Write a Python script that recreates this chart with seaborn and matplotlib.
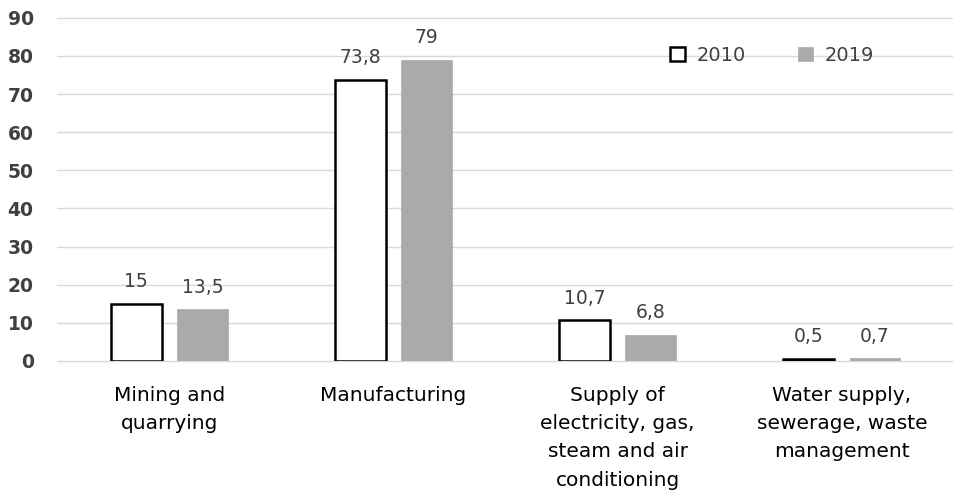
import pandas as pd
import numpy as np
import matplotlib
matplotlib.use('Agg')
import matplotlib.pyplot as plt
import seaborn as sn

# ----------------------------------------------------------------------------------
# chart data
# ----------------------------------------------------------------------------------
categories = ['Mining and\nquarrying',
              'Manufacturing',
              'Supply of\nelectricity, gas,\nsteam and air\nconditioning',
              'Water supply,\nsewerage, waste\nmanagement']
years = ['2010', '2019']
values_2010 = [15, 73.8, 10.7, 0.5]
values_2019 = [13.5, 79, 6.8, 0.7]
y_ticks = [0, 10, 20, 30, 40, 50, 60, 70, 80, 90]

# long format table for seaborn
df = pd.DataFrame({
    'category': categories * 2,
    'year': [years[0]] * len(categories) + [years[1]] * len(categories),
    'value': values_2010 + values_2019,
})

text_color = '#404040'
gray = '#ADA9A8'

sn.set_style('white')
plt.rcParams['font.family'] = ['DejaVu Sans']

fig = plt.figure(figsize=(9.54, 4.95), dpi=100)
ax = fig.add_axes([0.06, 0.271, 0.94, 0.693])

sn.barplot(data=df, x='category', y='value', hue='year', order=categories,
           hue_order=years, palette=['white', gray], width=0.59, gap=0.23,
           legend=False, ax=ax)

# style each series
for patch in ax.containers[0]:
    patch.set_edgecolor('black')
    patch.set_linewidth(1.8)
for patch in ax.containers[1]:
    patch.set_edgecolor(gray)
    patch.set_linewidth(0.5)

# value labels with comma decimal separator
def fmt_val(v):
    s = '%g' % round(v, 1)
    return s.replace('.', ',')

for cont in ax.containers:
    ax.bar_label(cont, fmt=fmt_val, padding=9, fontsize=13.5, color=text_color)

ax.set_ylim(0, 90)
ax.set_yticks(y_ticks)
ax.set_xlim(-0.5, len(categories) - 0.5)
ax.yaxis.grid(True, color='#D9D9D9', linewidth=1)
for gl in ax.get_ygridlines():
    gl.set_clip_on(False)
ax.set_axisbelow(True)
for s in ax.spines.values():
    s.set_visible(False)

ax.set_xlabel('')
ax.set_ylabel('')
ax.tick_params(axis='y', length=0, pad=17, labelsize=13.5, labelcolor=text_color)
for lbl in ax.get_yticklabels():
    lbl.set_fontweight('bold')
ax.tick_params(axis='x', length=0, pad=18, labelsize=14.5, labelcolor='black')
for lbl in ax.get_xticklabels():
    lbl.set_linespacing(1.62)
    lbl.set_verticalalignment('top')

ax.legend(ax.containers, years, loc='center', bbox_to_anchor=(0.797, 0.89),
          ncol=2, frameon=False, fontsize=14, handlelength=0.75, handleheight=0.75,
          columnspacing=2.7, handletextpad=0.6, labelcolor=text_color)

plt.savefig('out.png', format='png', dpi=100)
